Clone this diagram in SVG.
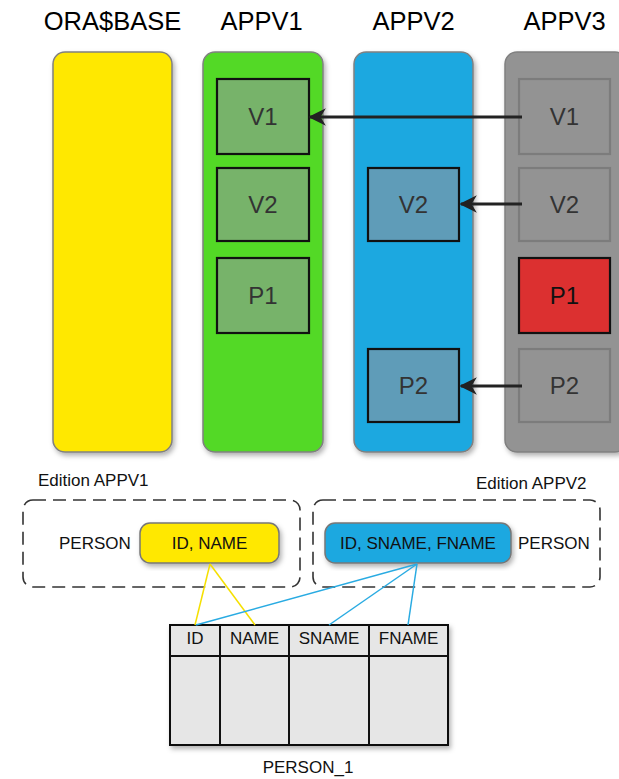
<svg xmlns="http://www.w3.org/2000/svg" width="619" height="779" viewBox="0 0 619 779">
<defs>
<filter id="sh" x="-20%" y="-20%" width="140%" height="140%">
<feDropShadow dx="2" dy="3" stdDeviation="2.5" flood-color="#000" flood-opacity="0.3"/>
</filter>
<marker id="ah" viewBox="0 0 10 10" refX="9" refY="5" markerWidth="5.5" markerHeight="5.5" markerUnits="strokeWidth" orient="auto">
<path d="M0,0 L10,5 L0,10 L3,5 Z" fill="#222"/>
</marker>
<style>
text{font-family:"Liberation Sans",Arial,sans-serif}
.title{font-size:25.5px;fill:#000;text-anchor:middle}
.col{stroke:#808080;stroke-width:1.5;filter:url(#sh)}
.box{stroke-width:2.2}
.g{fill:#77b36a;stroke:#111}
.b{fill:#5f9cb8;stroke:#111}
.gr{fill:#939393;stroke:#7c7c7c}
.r{fill:#dc3030;stroke:#111}
.bt{font-size:24px;fill:#333;text-anchor:middle}
.lbl{font-size:17px;fill:#111}
.dash{fill:none;stroke:#333;stroke-width:1.6;stroke-dasharray:13 7}
.pill{stroke:#777;stroke-width:1.5;filter:url(#sh)}
.arr{stroke:#222;stroke-width:3.2;fill:none;marker-end:url(#ah)}
.th{font-size:17px;fill:#111;text-anchor:middle}
</style>
</defs>

<g id="titles">
<text class="title" x="112.5" y="30">ORA$BASE</text>
<text class="title" x="261.5" y="30">APPV1</text>
<text class="title" x="413.5" y="30">APPV2</text>
<text class="title" x="564.5" y="30">APPV3</text>
</g>

<g id="orabase">
<rect class="col" x="53" y="52" width="119" height="400" rx="12" fill="#ffe800"/>
</g>

<g id="appv1">
<rect class="col" x="203" y="52" width="120" height="400" rx="12" fill="#52d928"/>
<g id="appv1-v1"><rect class="box g" x="217" y="79" width="92" height="75"/><text class="bt" x="263" y="125">V1</text></g>
<g id="appv1-v2"><rect class="box g" x="217" y="168" width="92" height="73"/><text class="bt" x="263" y="213">V2</text></g>
<g id="appv1-p1"><rect class="box g" x="217" y="258" width="92" height="75"/><text class="bt" x="263" y="304">P1</text></g>
</g>

<g id="appv2">
<rect class="col" x="354" y="52" width="119" height="400" rx="12" fill="#1fa8e0"/>
<g id="appv2-v2"><rect class="box b" x="368" y="168" width="91" height="73"/><text class="bt" x="413.5" y="213">V2</text></g>
<g id="appv2-p2"><rect class="box b" x="368" y="349" width="91" height="73"/><text class="bt" x="413.5" y="394">P2</text></g>
</g>

<g id="appv3">
<rect class="col" x="505" y="52" width="122" height="400" rx="12" fill="#939393"/>
<g id="appv3-v1"><rect class="box gr" x="519" y="79" width="91" height="75"/><text class="bt" x="564.5" y="125">V1</text></g>
<g id="appv3-v2"><rect class="box gr" x="519" y="168" width="91" height="73"/><text class="bt" x="564.5" y="213">V2</text></g>
<g id="appv3-p1"><rect class="box r" x="519" y="258" width="91" height="75"/><text class="bt" x="564.5" y="304" style="fill:#111">P1</text></g>
<g id="appv3-p2"><rect class="box gr" x="519" y="349" width="91" height="73"/><text class="bt" x="564.5" y="394">P2</text></g>
</g>

<g id="edition-appv1">
<text class="lbl" x="38" y="486">Edition APPV1</text>
<rect class="dash" x="23" y="500" width="277" height="87" rx="10"/>
<text class="lbl" x="59" y="549">PERSON</text>
<g id="pill1">
<rect class="pill" x="140" y="523" width="139" height="40" rx="10" fill="#ffe800"/>
<text class="th" x="209.5" y="549">ID, NAME</text>
</g>
</g>

<g id="edition-appv2">
<text class="lbl" x="476" y="489">Edition APPV2</text>
<rect class="dash" x="313" y="500" width="287" height="87" rx="10"/>
<text class="lbl" x="518" y="549">PERSON</text>
<g id="pill2">
<rect class="pill" x="325" y="523" width="186" height="40" rx="10" fill="#1fa8e0"/>
<text class="th" x="418" y="549">ID, SNAME, FNAME</text>
</g>
</g>

<g id="person1">
<rect x="170" y="625" width="278" height="120" fill="#e6e6e6" stroke="#111" stroke-width="2" filter="url(#sh)"/>
<line x1="170" y1="656" x2="448" y2="656" stroke="#111" stroke-width="2"/>
<line x1="220" y1="625" x2="220" y2="745" stroke="#111" stroke-width="2"/>
<line x1="289" y1="625" x2="289" y2="745" stroke="#111" stroke-width="2"/>
<line x1="369" y1="625" x2="369" y2="745" stroke="#111" stroke-width="2"/>
<text class="th" x="195" y="644">ID</text>
<text class="th" x="254.5" y="644">NAME</text>
<text class="th" x="329" y="644">SNAME</text>
<text class="th" x="408.5" y="644">FNAME</text>
<text class="th" x="308" y="773">PERSON_1</text>
</g>

<g id="connectors">
<line class="arr" x1="522" y1="117" x2="310" y2="117"/>
<line class="arr" x1="522" y1="204" x2="461" y2="204"/>
<line class="arr" x1="522" y1="386" x2="461" y2="386"/>
<g stroke="#f5e000" stroke-width="1.5" fill="none">
<line x1="210" y1="564" x2="195" y2="625"/>
<line x1="210" y1="564" x2="255" y2="625"/>
</g>
<g stroke="#29abe2" stroke-width="1.5" fill="none">
<line x1="417" y1="564" x2="196" y2="625"/>
<line x1="417" y1="564" x2="329" y2="625"/>
<line x1="417" y1="564" x2="408" y2="625"/>
</g>
</g>
</svg>
